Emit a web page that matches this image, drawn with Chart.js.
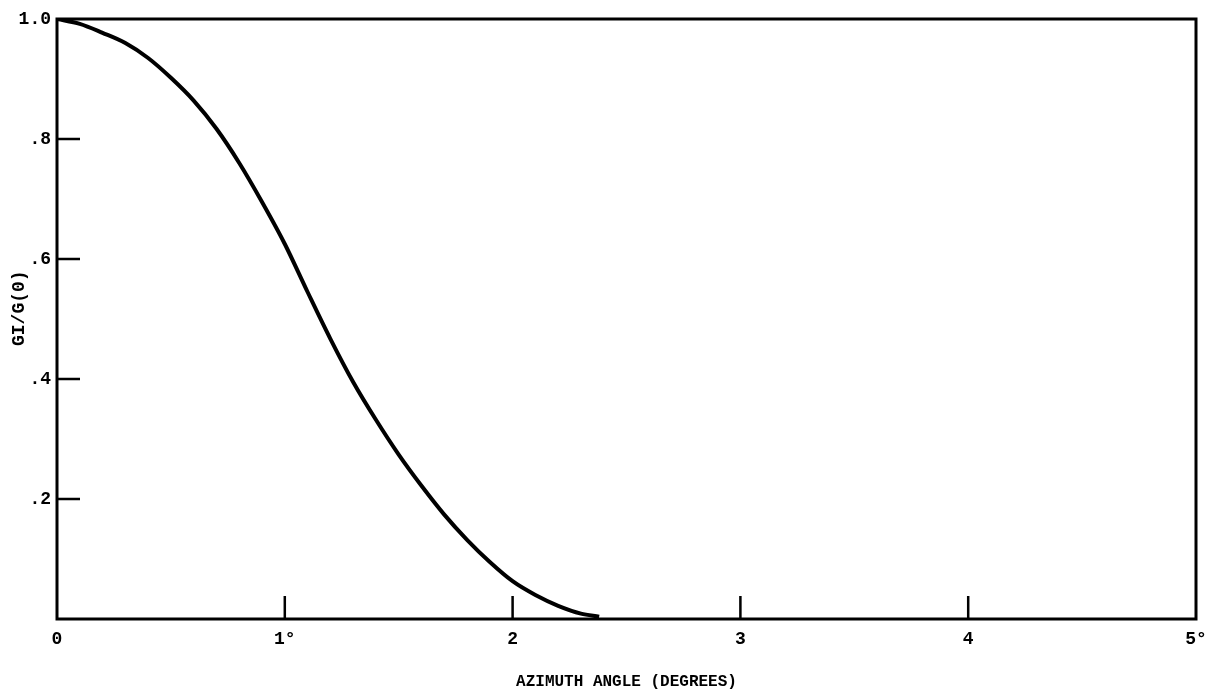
<!DOCTYPE html>
<html>
<head>
<meta charset="utf-8">
<script src="https://cdn.jsdelivr.net/npm/chart.js@4/dist/chart.umd.min.js"></script>
<style>
  html, body { margin: 0; padding: 0; background: #fff; }
  #wrap { width: 1207px; height: 693px; }
</style>
</head>
<body>
<div id="wrap"><canvas id="c" width="1207" height="693"></canvas></div>
<script>
// Data
const angleDeg = [0, 0.1, 0.2, 0.3, 0.4, 0.5, 0.6, 0.7, 0.8, 0.9, 1.0, 1.1, 1.2, 1.3, 1.4, 1.5, 1.6, 1.7, 1.8, 1.9, 2.0, 2.1, 2.2, 2.3, 2.38];
const gainRatio = [1.0, 0.992, 0.977, 0.96, 0.935, 0.902, 0.864, 0.817, 0.76, 0.695, 0.625, 0.545, 0.467, 0.395, 0.332, 0.274, 0.222, 0.174, 0.132, 0.095, 0.063, 0.04, 0.022, 0.009, 0.004];
const xTickValues = [0, 1, 2, 3, 4, 5];
const xTickLabels = ['0', '1°', '2', '3', '4', '5°'];
const yTickValues = [0, 0.2, 0.4, 0.6, 0.8, 1.0];
const yTickLabels = ['', '.2', '.4', '.6', '.8', '1.0'];
const xTitle = 'AZIMUTH ANGLE (DEGREES)';
const yTitle = '  GI/G(0)';

const points = angleDeg.map((x, i) => ({ x: x, y: gainRatio[i] }));

const frameAndTicks = {
  id: 'frameAndTicks',
  afterDraw(chart) {
    const ctx = chart.ctx;
    const a = chart.chartArea;
    const xs = chart.scales.x, ys = chart.scales.y;
    ctx.save();
    ctx.strokeStyle = '#000';
    ctx.lineWidth = 3;
    ctx.strokeRect(a.left, a.top, a.right - a.left, a.bottom - a.top);
    ctx.lineWidth = 2.5;
    ctx.beginPath();
    xTickValues.forEach(v => {
      if (v === xs.min || v === xs.max) return;
      const px = xs.getPixelForValue(v);
      ctx.moveTo(px, a.bottom);
      ctx.lineTo(px, a.bottom - 23);
    });
    yTickValues.forEach(v => {
      if (v === ys.min || v === ys.max) return;
      const py = ys.getPixelForValue(v);
      ctx.moveTo(a.left, py);
      ctx.lineTo(a.left + 23, py);
    });
    ctx.stroke();
    ctx.restore();
  }
};

new Chart(document.getElementById('c'), {
  type: 'scatter',
  data: {
    datasets: [{
      data: points,
      showLine: true,
      borderColor: '#000',
      borderWidth: 4,
      pointRadius: 0,
      cubicInterpolationMode: 'monotone',
      fill: false
    }]
  },
  options: {
    responsive: false,
    animation: false,
    layout: { padding: { top: 19, right: 11, left: 0, bottom: 0 } },
    plugins: { legend: { display: false }, tooltip: { enabled: false } },
    scales: {
      x: {
        type: 'linear',
        min: 0, max: 5,
        afterBuildTicks: s => { s.ticks = xTickValues.map(v => ({ value: v })); },
        afterFit: s => { s.height = 74; s.paddingRight = 0; s.paddingLeft = 0; },
        grid: { display: false, drawTicks: false },
        border: { display: false },
        ticks: {
          padding: 10,
          color: '#000',
          font: { family: 'Liberation Mono', size: 18, weight: 'bold' },
          callback: (v) => { const i = xTickValues.indexOf(v); return i >= 0 ? xTickLabels[i] : ''; }
        },
        title: {
          display: true,
          text: xTitle,
          color: '#000',
          font: { family: 'Liberation Mono', size: 16, weight: 'bold' },
          padding: { top: 0, bottom: 1 }
        }
      },
      y: {
        type: 'linear',
        min: 0, max: 1,
        afterBuildTicks: s => { s.ticks = yTickValues.map(v => ({ value: v })); },
        afterFit: s => { s.width = 57; s.paddingTop = 0; s.paddingBottom = 0; },
        grid: { display: false, drawTicks: false },
        border: { display: false },
        ticks: {
          padding: 6,
          color: '#000',
          font: { family: 'Liberation Mono', size: 18, weight: 'bold' },
          callback: (v) => { const i = yTickValues.findIndex(t => Math.abs(t - v) < 1e-9); return i >= 0 ? yTickLabels[i] : ''; }
        },
        title: {
          display: true,
          text: yTitle,
          color: '#000',
          font: { family: 'Liberation Mono', size: 18, weight: 'bold' },
          padding: { top: 9, bottom: 0 }
        }
      }
    }
  },
  plugins: [frameAndTicks]
});
</script>
</body>
</html>
